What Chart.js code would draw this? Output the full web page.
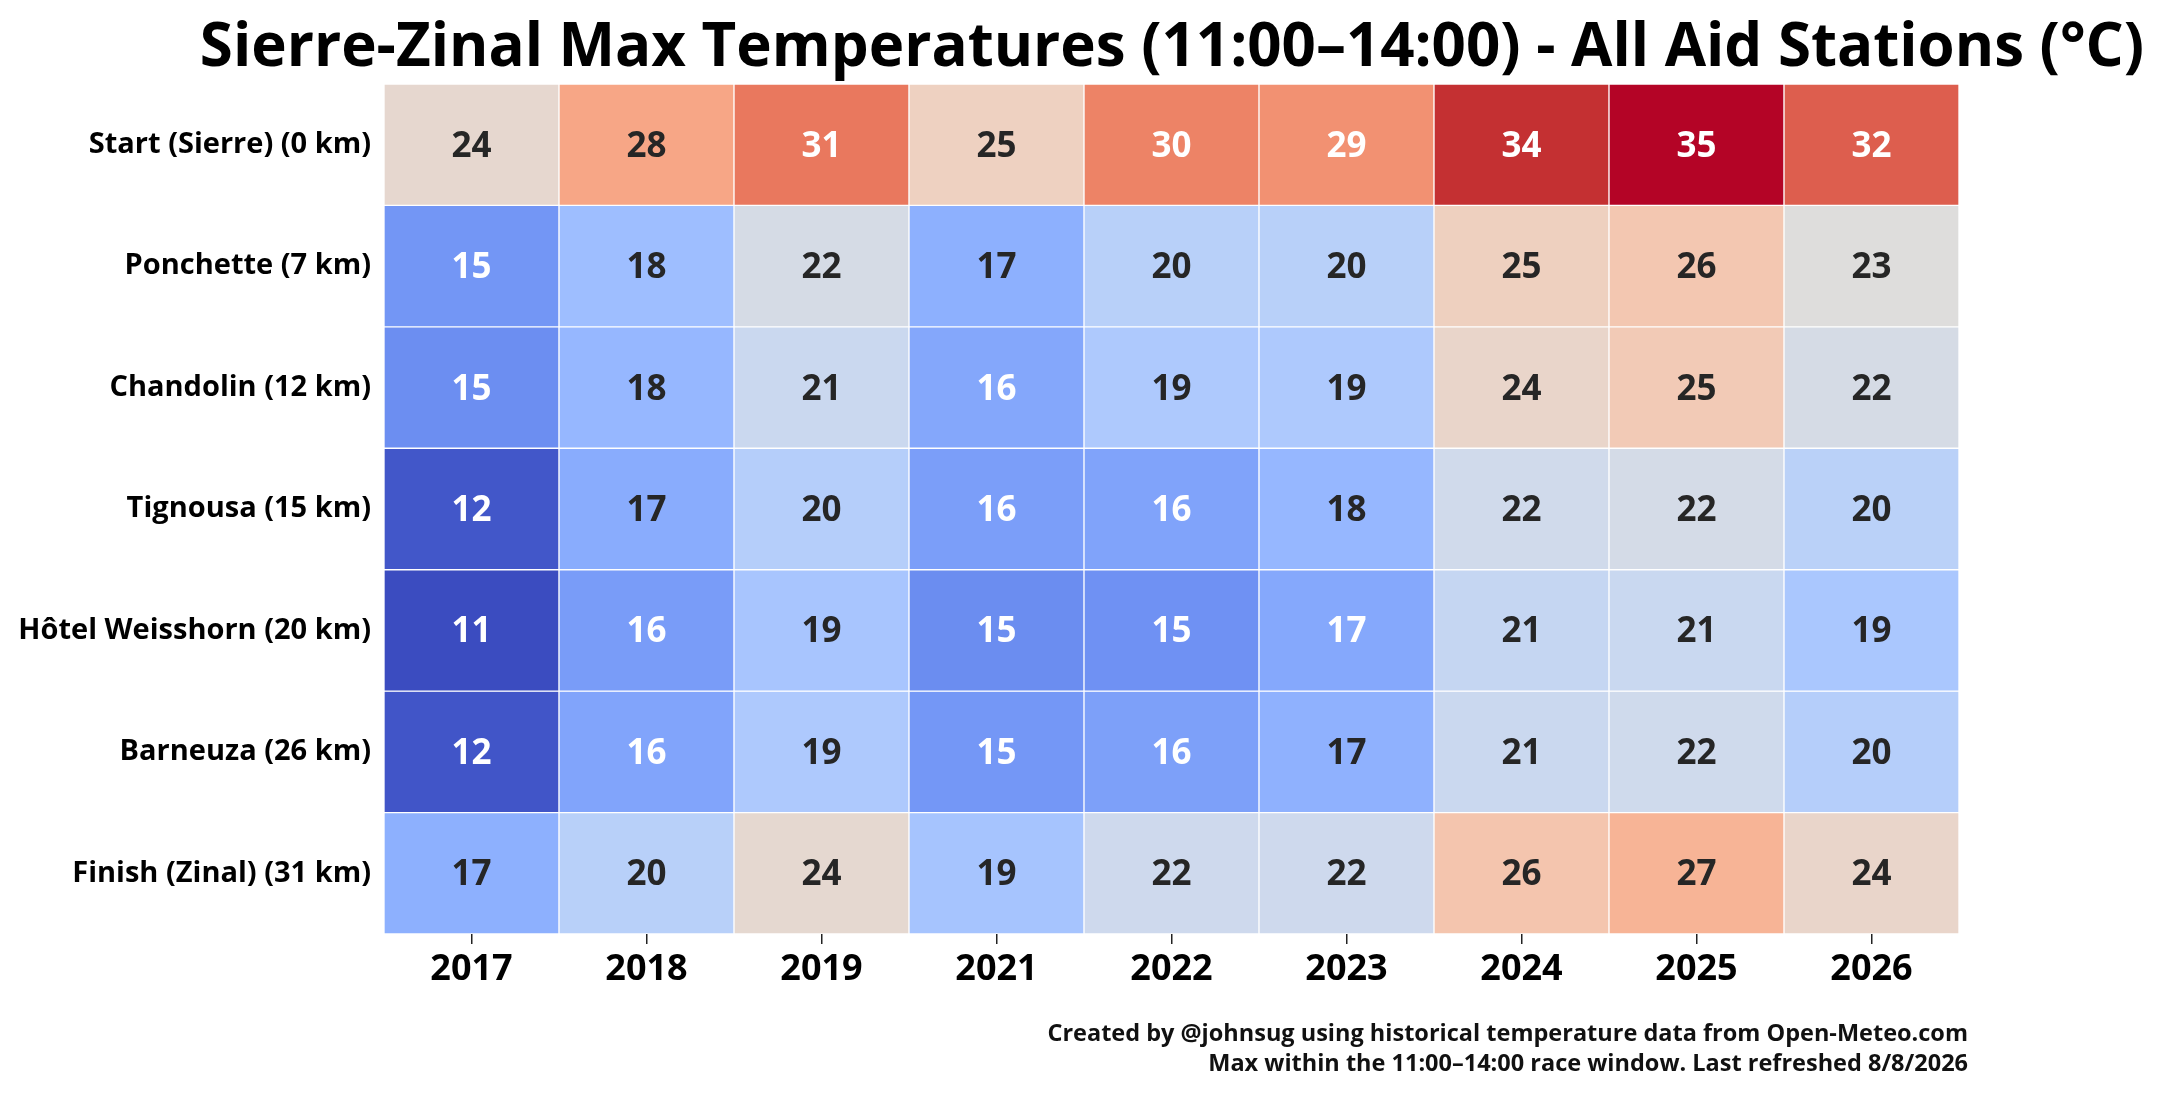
<!DOCTYPE html>
<html>
<head>
    <meta charset="utf-8"/>
    <title>Sierre-Zinal Max Temperatures</title>
    <style>
        html, body { margin: 0; padding: 0; background: #fff; }
        #wrap { width: 2163px; height: 1094px; position: relative; }
    </style>
    <script src="https://cdn.jsdelivr.net/npm/chart.js@4.4.1/dist/chart.umd.min.js"></script>
    <script>
        // years on the x axis, aid stations on the y axis
        const years = ['2017', '2018', '2019', '2021', '2022', '2023', '2024', '2025', '2026'];
        const stations = [
            'Start (Sierre) (0 km)',
            'Ponchette (7 km)',
            'Chandolin (12 km)',
            'Tignousa (15 km)',
            'Hôtel Weisshorn (20 km)',
            'Barneuza (26 km)',
            'Finish (Zinal) (31 km)'
        ];

        // max temperature per year, one array per station (°C)
        const startSierre    = [23.9, 28.2, 30.8, 24.7, 30.3, 29.49, 33.9, 35.0, 32.0];
        const ponchette      = [15.3, 18.2, 22.3, 17.0, 20.0, 20.0, 24.8, 25.7, 23.0];
        const chandolin      = [14.8, 17.6, 21.4, 16.4, 19.3, 19.3, 24.2, 25.4, 22.3];
        const tignousa       = [11.6, 16.8, 19.8, 15.8, 16.1, 17.6, 21.8, 22.2, 20.1];
        const hotelWeisshorn = [11.0, 15.6, 18.8, 14.7, 15.0, 16.52, 21.0, 21.3, 19.0];
        const barneuza       = [11.5, 16.2, 19.3, 15.4, 15.9, 17.1, 21.4, 21.7, 19.8];
        const finishZinal    = [17.0, 20.0, 23.8, 18.7, 21.6, 21.6, 25.9, 27.3, 24.2];

        const rows = [startSierre, ponchette, chandolin, tignousa, hotelWeisshorn, barneuza, finishZinal];

        const titleText = 'Sierre-Zinal Max Temperatures (11:00\u201314:00) - All Aid Stations (\u00b0C)';
        const footerLines = [
            'Created by @johnsug using historical temperature data from Open-Meteo.com',
            'Max within the 11:00\u201314:00 race window. Last refreshed 8/8/2026'
        ];

        const FONT = '"Open Sans", Roboto, sans-serif';

        // coolwarm colormap (Moreland, 33 control points)
        const coolwarm = [
            [59,76,192],[68,90,204],[77,104,215],[87,117,225],[98,130,234],[108,142,241],[119,154,247],[130,165,251],
            [141,176,254],[152,185,255],[163,194,255],[174,201,253],[184,208,249],[194,213,244],[204,217,238],[213,219,230],
            [221,221,221],[229,216,209],[236,211,197],[241,204,184],[245,196,172],[247,187,159],[247,177,147],[247,166,134],
            [244,154,123],[241,141,111],[236,127,99],[229,112,89],[222,96,79],[213,80,69],[203,62,56],[192,40,47],[180,4,38]
        ];

        const allValues = rows.flat();
        const vmin = Math.min(...allValues);
        const vmax = Math.max(...allValues);

        function cmap(v) {
            let t = (v - vmin) / (vmax - vmin);
            let idx = Math.min(255, Math.max(0, Math.floor(t * 256)));
            t = idx / 255;
            const pos = t * 32;
            const i = Math.min(31, Math.floor(pos));
            const f = pos - i;
            const a = coolwarm[i], b = coolwarm[i + 1];
            return [0, 1, 2].map((k) => a[k] + (b[k] - a[k]) * f);
        }

        function rgbStr(c) {
            return `rgb(${Math.round(c[0])},${Math.round(c[1])},${Math.round(c[2])})`;
        }

        function textColorFor(c) {
            const lin = c.map((x) => {
                x = x / 255;
                return x <= 0.03928 ? x / 12.92 : Math.pow((x + 0.055) / 1.055, 2.4);
            });
            const lum = 0.2126 * lin[0] + 0.7152 * lin[1] + 0.0722 * lin[2];
            return lum > 0.408 ? '#262626' : '#ffffff';
        }

        // draws the value in the middle of every cell
        const cellLabels = {
            id: 'cellLabels',
            afterDatasetsDraw(chart) {
                const ctx = chart.ctx;
                ctx.save();
                ctx.font = `bold 35px ${FONT}`;
                ctx.textAlign = 'center';
                ctx.textBaseline = 'middle';
                chart.data.datasets.forEach((ds, di) => {
                    const meta = chart.getDatasetMeta(di);
                    meta.data.forEach((bar, i) => {
                        const v = ds.temps[i];
                        const p = bar.getCenterPoint();
                        ctx.fillStyle = textColorFor(cmap(v));
                        ctx.fillText(v.toFixed(0), p.x, p.y + 2);
                    });
                });
                ctx.restore();
            }
        };

        const footer = {
            id: 'footer',
            afterDraw(chart) {
                const ctx = chart.ctx;
                const area = chart.chartArea;
                ctx.save();
                ctx.font = `bold 23.5px ${FONT}`;
                ctx.fillStyle = '#111';
                ctx.textAlign = 'right';
                ctx.textBaseline = 'alphabetic';
                ctx.fillText(footerLines[0], area.right + 9, area.bottom + 107);
                ctx.fillText(footerLines[1], area.right + 9, area.bottom + 137);
                ctx.restore();
            }
        };

        function onStart() {
            const datasets = rows.map((vals, r) => {
                const colors = vals.map((v) => rgbStr(cmap(v)));
                return {
                    label: stations[r],
                    data: years.map(() => 1),
                    temps: vals,
                    backgroundColor: colors,
                    borderColor: '#ffffff',
                    borderWidth: 1,
                    borderSkipped: false,
                    barPercentage: 1,
                    categoryPercentage: 1
                };
            });

            const canvas = document.getElementById('chart').getContext('2d');
            new Chart(canvas, {
                type: 'bar',
                data: { labels: years, datasets: datasets },
                options: {
                    responsive: true,
                    maintainAspectRatio: false,
                    animation: false,
                    devicePixelRatio: 1,
                    // negative right padding so the title is centred over the cells
                    layout: { padding: { left: 0, right: -181, top: 0, bottom: 0 } },
                    plugins: {
                        legend: { display: false },
                        tooltip: { enabled: false },
                        title: {
                            display: true,
                            text: titleText,
                            color: '#000',
                            font: { family: FONT, size: 60, weight: 'bold' },
                            padding: { top: 13, bottom: -1 }
                        }
                    },
                    scales: {
                        x: {
                            stacked: true,
                            grid: { display: true, offset: false, drawOnChartArea: false, drawTicks: true, tickLength: 10, color: '#222', lineWidth: 1.5 },
                            border: { display: false },
                            ticks: { color: '#000', font: { family: FONT, size: 36, weight: 'bold' }, padding: 4 },
                            afterFit: (s) => { s.height = 160; }
                        },
                        y: {
                            type: 'linear',
                            stacked: true,
                            reverse: true,
                            min: 0,
                            max: stations.length,
                            grid: { display: false },
                            border: { display: false },
                            afterBuildTicks: (s) => { s.ticks = stations.map((_, i) => ({ value: i + 0.5 })); },
                            ticks: {
                                autoSkip: false,
                                color: '#000',
                                padding: 5,
                                font: { family: FONT, size: 29, weight: 'bold' },
                                callback: (v) => stations[Math.floor(v)]
                            },
                            afterFit: (s) => { s.width = 384; }
                        },
                        yRight: {
                            type: 'linear',
                            position: 'right',
                            grid: { display: false },
                            border: { display: false },
                            ticks: { display: false },
                            afterFit: (s) => { s.width = 385; }
                        }
                    }
                },
                plugins: [cellLabels, footer]
            });
        }
    </script>
</head>
<body onload="onStart();">
<div id="wrap"><canvas id="chart"></canvas></div>
</body>
</html>
